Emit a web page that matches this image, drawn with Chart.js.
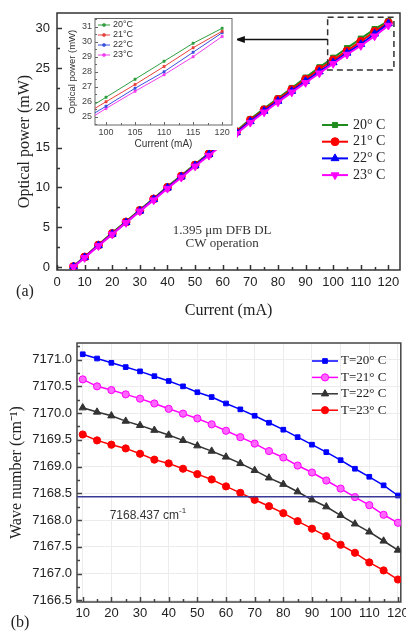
<!DOCTYPE html>
<html>
<head>
<meta charset="utf-8">
<script src="https://cdn.jsdelivr.net/npm/chart.js@4.4.1/dist/chart.umd.min.js"></script>
<style>
  html, body { margin: 0; padding: 0; background: #fff; overflow: hidden; }
  #page { position: relative; width: 406px; height: 643px; overflow: hidden; }
  canvas { position: absolute; }
</style>
</head>
<body>
<div id="page">
  <canvas id="powerChart" width="406" height="320" style="left:0;top:0"></canvas>
  <canvas id="insetChart" width="175" height="136" style="left:62px;top:14px;background:#fff"></canvas>
  <canvas id="waveChart" width="406" height="340" style="left:0;top:320px"></canvas>
</div>
<script>
// (a) optical power vs current
const powerCurrent = [6, 10, 15, 20, 25, 30, 35, 40, 45, 50, 55, 60, 65, 70, 75, 80, 85, 90, 95, 100, 105, 110, 115, 120];
const power20 = [0.1, 1.3, 2.8, 4.3, 5.7, 7.2, 8.6, 10.1, 11.5, 12.9, 14.3, 15.7, 17.1, 18.6, 19.9, 21.2, 22.5, 23.8, 25.1, 26.3, 27.5, 28.7, 29.9, 30.9];
const power21 = [0.05, 1.25, 2.75, 4.2, 5.65, 7.1, 8.55, 10.0, 11.4, 12.8, 14.2, 15.6, 17.0, 18.45, 19.75, 21.05, 22.3, 23.6, 24.85, 26.0, 27.15, 28.35, 29.6, 30.7];
const power22 = [0.05, 1.2, 2.7, 4.15, 5.6, 7.05, 8.5, 9.95, 11.35, 12.75, 14.15, 15.5, 16.9, 18.3, 19.6, 20.85, 22.1, 23.35, 24.55, 25.7, 26.9, 28.0, 29.3, 30.6];
const power23 = [0.0, 1.15, 2.65, 4.1, 5.55, 7.0, 8.4, 9.85, 11.25, 12.65, 14.0, 15.4, 16.75, 18.15, 19.45, 20.7, 21.95, 23.15, 24.35, 25.55, 26.7, 27.8, 29.0, 30.35];
const powerLabels = ['20° C', '21° C', '22° C', '23° C'];
const insetLabels = ['20°C', '21°C', '22°C', '23°C'];
const insetFrom = 95; // inset shows the 95..120 mA part of the same data

// (b) wave number vs current
const waveCurrent = [10, 15, 20, 25, 30, 35, 40, 45, 50, 55, 60, 65, 70, 75, 80, 85, 90, 95, 100, 105, 110, 115, 120];
const wave20 = [7171.10, 7171.02, 7170.94, 7170.86, 7170.78, 7170.69, 7170.60, 7170.50, 7170.39, 7170.30, 7170.18, 7170.07, 7169.95, 7169.82, 7169.69, 7169.55, 7169.41, 7169.27, 7169.12, 7168.96, 7168.81, 7168.65, 7168.46];
const wave21 = [7170.63, 7170.50, 7170.43, 7170.35, 7170.27, 7170.18, 7170.08, 7169.99, 7169.90, 7169.79, 7169.67, 7169.55, 7169.43, 7169.29, 7169.17, 7169.02, 7168.89, 7168.74, 7168.59, 7168.43, 7168.28, 7168.10, 7167.95];
const wave22 = [7170.10, 7170.02, 7169.95, 7169.85, 7169.77, 7169.68, 7169.59, 7169.49, 7169.39, 7169.29, 7169.18, 7169.06, 7168.93, 7168.79, 7168.67, 7168.53, 7168.38, 7168.25, 7168.09, 7167.93, 7167.78, 7167.61, 7167.44];
const wave23 = [7169.60, 7169.49, 7169.41, 7169.34, 7169.24, 7169.13, 7169.06, 7168.96, 7168.86, 7168.76, 7168.63, 7168.51, 7168.38, 7168.26, 7168.13, 7167.98, 7167.84, 7167.70, 7167.54, 7167.39, 7167.21, 7167.06, 7166.89];
const waveLabels = ['T=20° C', 'T=21° C', 'T=22° C', 'T=23° C'];
const refWave = 7168.437;

const SERIF = '"Liberation Serif", "Times New Roman", serif';
const SANS = '"Liberation Sans", Arial, sans-serif';

Chart.defaults.font.family = SANS;
Chart.defaults.color = '#222';

const pts = (xs, ys) => xs.map((x, i) => ({ x: x, y: ys[i] }));

// ticks only at multiples of the step, whatever the axis ends are
function stepTicks(step) {
  return s => {
    const out = [];
    for (let n = Math.ceil(s.min / step - 1e-9); n * step <= s.max + 1e-9; n++) {
      out.push({ value: +(n * step).toFixed(6) });
    }
    s.ticks = out;
  };
}
function fixWidth(w) { return s => { s.width = w; s.paddingTop = 0; s.paddingBottom = 0; }; }
function fixHeight(h) { return s => { s.height = h; s.paddingLeft = 0; s.paddingRight = 0; }; }

// box round the plot area with inward major/minor ticks
const framePlugin = {
  id: 'frame',
  beforeDatasetsDraw(chart, args, o) {
    const { ctx, chartArea: a } = chart;
    const sx = chart.scales.x, sy = chart.scales.y;
    const isMajor = (v, step) => Math.abs(v / step - Math.round(v / step)) < 1e-6;
    ctx.save();
    ctx.strokeStyle = o.color;
    ctx.lineWidth = o.width;
    ctx.beginPath();
    for (let n = Math.ceil(sx.min / o.xMinor - 1e-9); n * o.xMinor <= sx.max + 1e-9; n++) {
      const v = n * o.xMinor;
      const px = Math.round(sx.getPixelForValue(v)) + 0.5;
      const len = isMajor(v, o.xMajor) ? o.major : o.minor;
      ctx.moveTo(px, a.bottom); ctx.lineTo(px, a.bottom - len);
    }
    for (let n = Math.ceil(sy.min / o.yMinor - 1e-9); n * o.yMinor <= sy.max + 1e-9; n++) {
      const v = n * o.yMinor;
      const py = Math.round(sy.getPixelForValue(v)) + 0.5;
      const len = isMajor(v, o.yMajor) ? o.major : o.minor;
      ctx.moveTo(a.left, py); ctx.lineTo(a.left + len, py);
    }
    ctx.stroke();
    ctx.strokeRect(a.left, a.top, a.right - a.left, a.bottom - a.top);
    ctx.restore();
  }
};

// legend drawn from the datasets themselves
const lineLegend = {
  id: 'lineLegend',
  afterDraw(chart, args, o) {
    const ctx = chart.ctx;
    chart.data.datasets.forEach((ds, i) => {
      const y = o.y0 + i * o.dy;
      ctx.save();
      ctx.strokeStyle = ds.borderColor;
      ctx.lineWidth = ds.borderWidth;
      ctx.beginPath();
      ctx.moveTo(o.x0, y); ctx.lineTo(o.x1, y);
      ctx.stroke();
      ctx.fillStyle = ds.pointBackgroundColor || ds.backgroundColor;
      ctx.lineWidth = 1;
      Chart.helpers.drawPoint(ctx, {
        pointStyle: ds.pointStyle, radius: ds.pointRadius,
        rotation: ds.pointRotation || 0, borderWidth: 1
      }, (o.x0 + o.x1) / 2, y);
      ctx.fillStyle = o.color;
      ctx.font = o.font;
      ctx.textAlign = 'left';
      ctx.textBaseline = 'middle';
      ctx.fillText(ds.label, o.tx, y);
      ctx.restore();
    });
  }
};

// ---------- (a) main chart ----------
const powerSeries = [power20, power21, power22, power23];
const powerStyle = [
  { color: '#1f8c1f', shape: 'rect', rot: 0, r: 3.6 },
  { color: '#ff0000', shape: 'circle', rot: 0, r: 4 },
  { color: '#0000ff', shape: 'triangle', rot: 0, r: 4.5 },
  { color: '#ff00ff', shape: 'triangle', rot: 180, r: 4.5 }
];

const powerAnnot = {
  id: 'powerAnnot',
  afterDraw(chart) {
    const { ctx } = chart;
    const sx = chart.scales.x, sy = chart.scales.y;
    ctx.save();
    // dashed zoom box
    const x1 = sx.getPixelForValue(98), x2 = sx.getPixelForValue(122);
    const y1 = sy.getPixelForValue(31.38), y2 = sy.getPixelForValue(24.76);
    ctx.strokeStyle = '#333';
    ctx.lineWidth = 1.5;
    ctx.setLineDash([6, 4]);
    ctx.strokeRect(x1, y1, x2 - x1, y2 - y1);
    ctx.setLineDash([]);
    // arrow to the inset
    const ay = sy.getPixelForValue(28.6);
    const ax = sx.getPixelForValue(64.4);
    ctx.strokeStyle = '#111';
    ctx.beginPath();
    ctx.moveTo(x1, ay); ctx.lineTo(ax + 8, ay);
    ctx.stroke();
    ctx.fillStyle = '#111';
    ctx.beginPath();
    ctx.moveTo(ax, ay); ctx.lineTo(ax + 10, ay - 3.5); ctx.lineTo(ax + 10, ay + 3.5);
    ctx.closePath(); ctx.fill();
    // note
    ctx.fillStyle = '#333';
    ctx.font = '13px ' + SERIF;
    ctx.textAlign = 'center';
    ctx.textBaseline = 'middle';
    ctx.fillText('1.395 μm DFB DL', sx.getPixelForValue(59.8), sy.getPixelForValue(4.6));
    ctx.fillText('CW operation', sx.getPixelForValue(59.8), sy.getPixelForValue(3.0));
    ctx.font = '16px ' + SERIF;
    ctx.fillStyle = '#222';
    ctx.fillText('(a)', 25, 292);
    ctx.restore();
  }
};

new Chart(document.getElementById('powerChart'), {
  type: 'line',
  data: {
    datasets: powerSeries.map((s, i) => ({
      label: powerLabels[i],
      data: pts(powerCurrent, s),
      borderColor: powerStyle[i].color,
      backgroundColor: powerStyle[i].color,
      borderWidth: 2,
      pointStyle: powerStyle[i].shape,
      pointRotation: powerStyle[i].rot,
      pointRadius: powerStyle[i].r,
      pointBorderWidth: 1,
      order: 3 - i,
      tension: 0
    }))
  },
  options: {
    responsive: false,
    devicePixelRatio: 1,
    animation: false,
    layout: { padding: { top: 13, right: 6, left: 0, bottom: 0 } },
    plugins: {
      legend: { display: false },
      tooltip: { enabled: false },
      frame: { color: '#333', width: 1.5, xMinor: 5, xMajor: 10, yMinor: 2.5, yMajor: 5, major: 5, minor: 3 },
      lineLegend: { x0: 322, x1: 348, tx: 353, y0: 125, dy: 16.7, font: '14px ' + SERIF, color: '#222' }
    },
    scales: {
      x: {
        type: 'linear', min: 0, max: 124.2, bounds: 'data',
        grid: { display: false, drawTicks: false },
        border: { display: false },
        ticks: { padding: 5, font: { size: 13 }, maxRotation: 0, autoSkip: false },
        afterBuildTicks: stepTicks(10),
        title: { display: true, text: 'Current (mA)', font: { family: SERIF, size: 16, lineHeight: 1.2 }, padding: { top: 7, bottom: 0 } },
        afterFit: fixHeight(50)
      },
      y: {
        type: 'linear', min: -0.38, max: 31.92, bounds: 'data',
        grid: { display: false, drawTicks: false },
        border: { display: false },
        ticks: { padding: 7, font: { size: 13 }, autoSkip: false },
        afterBuildTicks: stepTicks(5),
        title: { display: true, text: 'Optical power (mW)', font: { family: SERIF, size: 16, lineHeight: 1.2 }, padding: { top: 15, bottom: 0 } },
        afterFit: fixWidth(57)
      }
    }
  },
  plugins: [framePlugin, lineLegend, powerAnnot]
});

// ---------- (a) inset ----------
const insetStart = powerCurrent.indexOf(insetFrom);
const insetStyle = ['#2f9e3f', '#e8413a', '#3b4fe0', '#f23cf0'];

new Chart(document.getElementById('insetChart'), {
  type: 'line',
  data: {
    datasets: powerSeries.map((s, i) => ({
      label: insetLabels[i],
      data: pts(powerCurrent.slice(insetStart), s.slice(insetStart)),
      borderColor: insetStyle[i],
      backgroundColor: insetStyle[i],
      borderWidth: 1,
      pointStyle: 'rect',
      pointRadius: 1.6,
      pointBorderWidth: 0.5,
      tension: 0
    }))
  },
  options: {
    responsive: false,
    devicePixelRatio: 1,
    animation: false,
    layout: { padding: { top: 3, right: 5, left: 0, bottom: 0 } },
    plugins: {
      legend: { display: false },
      tooltip: { enabled: false },
      frame: { color: '#666', width: 1, xMinor: 2.5, xMajor: 5, yMinor: 0.5, yMajor: 1, major: 3, minor: 2 },
      lineLegend: { x0: 36, x1: 48, tx: 51, y0: 11, dy: 10, font: '9px ' + SANS, color: '#333' }
    },
    scales: {
      x: {
        type: 'linear', min: 98.1, max: 121.7, bounds: 'data',
        grid: { display: false, drawTicks: false },
        border: { display: false },
        ticks: { padding: 2, color: '#444', font: { size: 9 }, maxRotation: 0, autoSkip: false },
        afterBuildTicks: stepTicks(5),
        title: { display: true, text: 'Current (mA)', color: '#333', font: { size: 10, lineHeight: 1.2 }, padding: { top: 1, bottom: 0 } },
        afterFit: fixHeight(25)
      },
      y: {
        type: 'linear', min: 24.45, max: 31.55, bounds: 'data',
        grid: { display: false, drawTicks: false },
        border: { display: false },
        ticks: { padding: 3, color: '#444', font: { size: 9 }, autoSkip: false },
        afterBuildTicks: stepTicks(1),
        title: { display: true, text: 'Optical power (mW)', color: '#333', font: { size: 9.5, lineHeight: 1.2 }, padding: { top: 5, bottom: 0 } },
        afterFit: fixWidth(33)
      }
    }
  },
  plugins: [framePlugin, lineLegend]
});

// ---------- (b) wave number ----------
const waveSeries = [wave20, wave21, wave22, wave23];
const waveStyle = [
  { color: '#0000ff', fill: '#0000ff', shape: 'rect', r: 3.3 },
  { color: '#ff00ff', fill: '#ff66ff', shape: 'circle', r: 3.6 },
  { color: '#333333', fill: '#333333', shape: 'triangle', r: 4.2 },
  { color: '#ff0000', fill: '#ff0000', shape: 'circle', r: 3.6 }
];

const waveAnnot = {
  id: 'waveAnnot',
  afterDatasetsDraw(chart) {
    const { ctx, chartArea: a } = chart;
    const sx = chart.scales.x, sy = chart.scales.y;
    ctx.save();
    const py = sy.getPixelForValue(refWave);
    ctx.strokeStyle = '#3a3a96';
    ctx.lineWidth = 1.5;
    ctx.beginPath();
    ctx.moveTo(a.left, py); ctx.lineTo(a.right, py);
    ctx.stroke();
    const tx = sx.getPixelForValue(19.4), ty = sy.getPixelForValue(7168.09);
    ctx.fillStyle = '#333';
    ctx.font = '12px ' + SANS;
    ctx.textAlign = 'left';
    ctx.textBaseline = 'middle';
    const main = refWave.toFixed(3) + ' cm';
    ctx.fillText(main, tx, ty);
    const w = ctx.measureText(main).width;
    ctx.font = '8px ' + SANS;
    ctx.fillText('-1', tx + w, ty - 5);
    ctx.font = '16px ' + SERIF;
    ctx.fillStyle = '#222';
    ctx.textAlign = 'center';
    ctx.fillText('(b)', 20, 303);
    ctx.restore();
  }
};

new Chart(document.getElementById('waveChart'), {
  type: 'line',
  data: {
    datasets: waveSeries.map((s, i) => ({
      label: waveLabels[i],
      data: pts(waveCurrent, s),
      borderColor: waveStyle[i].color,
      backgroundColor: waveStyle[i].fill,
      pointBackgroundColor: waveStyle[i].fill,
      borderWidth: 1.5,
      pointStyle: waveStyle[i].shape,
      pointRadius: waveStyle[i].r,
      pointBorderWidth: 1,
      tension: 0
    }))
  },
  options: {
    responsive: false,
    devicePixelRatio: 1,
    animation: false,
    layout: { padding: { top: 23, right: 2, left: 0, bottom: 0 } },
    plugins: {
      legend: { display: false },
      tooltip: { enabled: false },
      frame: { color: '#444', width: 1.5, xMinor: 5, xMajor: 10, yMinor: 0.25, yMajor: 0.5, major: 5, minor: 3 },
      lineLegend: { x0: 312, x1: 338, tx: 341, y0: 41, dy: 16.4, font: '13px ' + SERIF, color: '#222' }
    },
    scales: {
      x: {
        type: 'linear', min: 8, max: 121, bounds: 'data',
        grid: { display: true, drawTicks: false, color: '#ececec', lineWidth: 1 },
        border: { display: false },
        ticks: { padding: 4, font: { size: 13 }, maxRotation: 0, autoSkip: false },
        afterBuildTicks: stepTicks(10),
        title: { display: true, text: 'Current (mA)', font: { family: SERIF, size: 16, lineHeight: 1.2 }, padding: { top: 10, bottom: 0 } },
        afterFit: fixHeight(58)
      },
      y: {
        type: 'linear', min: 7166.47, max: 7171.31, bounds: 'data',
        grid: { display: true, drawTicks: false, color: '#ececec', lineWidth: 1 },
        border: { display: false },
        ticks: { padding: 5, font: { size: 13 }, autoSkip: false, callback: v => v.toFixed(1) },
        afterBuildTicks: stepTicks(0.5),
        title: { display: true, text: 'Wave number (cm⁻¹)', font: { family: SERIF, size: 16, lineHeight: 1.2 }, padding: { top: 7, bottom: 0 } },
        afterFit: fixWidth(77)
      }
    }
  },
  plugins: [framePlugin, lineLegend, waveAnnot]
});
</script>
</body>
</html>
